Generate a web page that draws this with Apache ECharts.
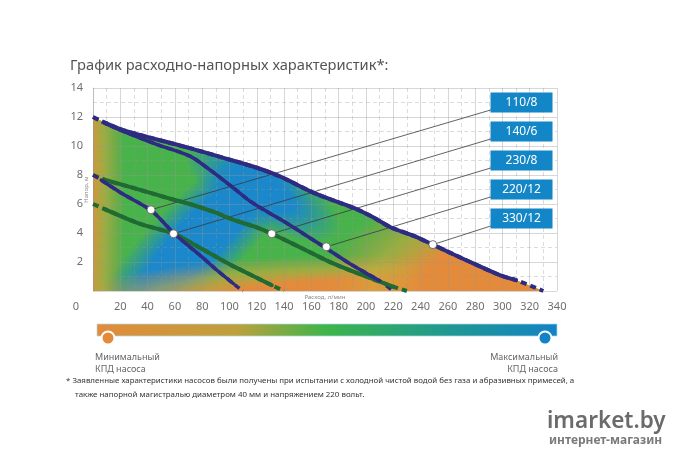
<!DOCTYPE html>
<html>
<head>
<meta charset="utf-8">
<script src="https://cdn.jsdelivr.net/npm/echarts@6/dist/echarts.min.js"></script>
<style>
  html, body { margin: 0; padding: 0; background: #fff; }
  #chart { width: 680px; height: 460px; }
</style>
</head>
<body>
<div id="chart"></div>
<script>
var FONT = '"Noto Sans", "DejaVu Sans", sans-serif';
var ORANGE = '#e38b3b', GREEN = '#49b34b', BLUE = '#1a88cb';
var NAVY = '#2e2b82', DKGREEN = '#1f6b33', BOXBLUE = '#1286c6';

// pump curves, flow l/min -> head m. first and last step are the dashed ends
var q330 = [0, 9, 22, 47, 71, 95, 120, 137, 161, 176, 193, 205, 218, 235, 249, 274, 298, 310, 330];
var h330 = [12, 11.6, 11.1, 10.45, 9.85, 9.2, 8.5, 7.9, 6.8, 6.25, 5.65, 5.1, 4.4, 3.8, 3.2, 2.1, 1.1, 0.75, 0];
var q220 = [0, 9, 20, 47, 71, 85, 103, 115, 127, 140, 155, 170, 188, 210, 220];
var h220 = [12, 11.55, 11.1, 10.1, 9.3, 8.4, 7.1, 6.2, 5.5, 4.8, 3.9, 3.0, 1.9, 0.7, 0];
var q230 = [0, 11, 30, 55, 71, 90, 103, 118, 131, 152, 176, 200, 220, 230];
var h230 = [8, 7.6, 7.1, 6.4, 6.0, 5.4, 4.9, 4.45, 3.95, 3.0, 1.9, 1.0, 0.3, 0];
var q140 = [0, 8.5, 34, 59, 78, 95, 103, 131, 140];
var h140 = [6, 5.65, 4.65, 3.95, 3.0, 2.1, 1.7, 0.4, 0];
var q110 = [0, 6, 20, 42, 50, 59, 78, 90, 103, 110];
var h110 = [8, 7.65, 6.8, 5.6, 4.9, 4.0, 2.5, 1.5, 0.5, 0];

// labels and the points they point at
var pumpNames = ['110/8', '140/6', '230/8', '220/12', '330/12'];
var markerFlow = [42.5, 59, 131, 171, 249];
var markerHead = [5.6, 3.95, 3.95, 3.05, 3.2];
var boxFlow = 314;
var boxHead = [13, 11, 9, 7, 5];
var leaderFlow = 292;

// efficiency map: ellipse centre, end of long axis, end of short axis
// order: best-efficiency ridge and its upper lobe, then low-efficiency zones left, bottom, right
var zoneCenter = [[80.6, 3.84], [123.8, 6.92], [-24, 6.2], [195.6, -0.96], [313, 0.07]];
var zoneMajor = [[165.2, 11.9], [180, 4.0], [-24, 34], [415, -0.96], [459, 0.07]];
var zoneMinor = [[104, 1.6], [108.5, 5.0], [23, 6.2], [195.6, 2.47], [313, 7.6]];

function fade(col, core, mid) {
  var c = echarts.color.parse(col);
  var rgb = c[0] + ',' + c[1] + ',' + c[2];
  var stops = [
    { offset: 0, color: 'rgba(' + rgb + ',1)' },
    { offset: core, color: 'rgba(' + rgb + ',1)' }
  ];
  if (mid) stops.push({ offset: (core + 1) / 2, color: mid });
  stops.push({ offset: 1, color: 'rgba(' + rgb + ',0)' });
  return stops;
}
var YELLOWISH = 'rgba(212,170,58,0.55)';
var zoneStops = [
  fade(BLUE, 0.5),
  fade(BLUE, 0.4),
  fade(ORANGE, 0.45, YELLOWISH),
  fade(ORANGE, 0.5, YELLOWISH),
  fade(ORANGE, 0.5, YELLOWISH)
];

function pairs(q, h) {
  return q.map(function (v, i) { return [v, h[i]]; });
}

function renderFill(params, api) {
  var outline = q330.map(function (q, i) { return api.coord([q, h330[i]]); });
  outline.push(api.coord([q330[q330.length - 1], 0]));
  outline.push(api.coord([0, 0]));
  var kids = [{ type: 'polygon', shape: { points: outline }, style: { fill: GREEN } }];
  zoneCenter.forEach(function (c0, k) {
    var c = api.coord(c0), a = api.coord(zoneMajor[k]), b = api.coord(zoneMinor[k]);
    var ax = a[0] - c[0], ay = a[1] - c[1];
    var ra = Math.sqrt(ax * ax + ay * ay);
    var ux = ax / ra, uy = ay / ra;
    var rb = Math.abs((b[0] - c[0]) * -uy + (b[1] - c[1]) * ux);
    var local = outline.map(function (p) {
      var dx = p[0] - c[0], dy = p[1] - c[1];
      return [(dx * ux + dy * uy) / ra, (dy * ux - dx * uy) / rb];
    });
    kids.push({
      type: 'polygon',
      x: c[0], y: c[1],
      rotation: Math.atan2(-uy, ux),
      scaleX: ra, scaleY: rb,
      shape: { points: local },
      style: { fill: { type: 'radial', x: 0, y: 0, r: 1, global: true, colorStops: zoneStops[k] } }
    });
  });
  return { type: 'group', children: kids };
}

var curves = [
  { q: q230, h: h230, color: DKGREEN, width: 4 },
  { q: q140, h: h140, color: DKGREEN, width: 4 },
  { q: q220, h: h220, color: NAVY, width: 3.5 },
  { q: q110, h: h110, color: NAVY, width: 3.5 },
  { q: q330, h: h330, color: NAVY, width: 4 }
];

var series = [{
  type: 'custom',
  z: 1,
  silent: true,
  clip: true,
  renderItem: renderFill,
  data: [[0, 0]]
}];

// leader lines from the points to the labels
pumpNames.forEach(function (name, i) {
  series.push({
    type: 'line',
    z: 4,
    silent: true,
    symbol: 'none',
    lineStyle: { color: '#3a3a3a', width: 0.8 },
    data: [[markerFlow[i], markerHead[i]], [leaderFlow, boxHead[i] - 0.5]]
  });
});

curves.forEach(function (c) {
  var d = pairs(c.q, c.h);
  series.push({
    type: 'line', z: 5, silent: true, symbol: 'none', smooth: 0.3,
    lineStyle: { color: c.color, width: c.width, type: [6, 4] },
    data: d
  });
  series.push({
    type: 'line', z: 6, silent: true, symbol: 'none', smooth: 0.3,
    lineStyle: { color: c.color, width: c.width, cap: 'round' },
    data: d.slice(1, -1)
  });
});

series.push({
  type: 'scatter',
  z: 8,
  silent: true,
  symbol: 'circle',
  symbolSize: 8,
  itemStyle: { color: '#fff', borderColor: '#555', borderWidth: 0.8, opacity: 1 },
  data: pairs(markerFlow, markerHead)
});

series.push({
  type: 'scatter',
  z: 8,
  silent: true,
  symbol: 'rect',
  symbolSize: [62, 20],
  itemStyle: { color: BOXBLUE, opacity: 1 },
  label: {
    show: true,
    position: 'inside',
    color: '#fff',
    fontFamily: FONT,
    fontSize: 12,
    formatter: function (p) { return pumpNames[p.dataIndex]; }
  },
  data: boxHead.map(function (h) { return [boxFlow, h]; })
});

var gridLine = { lineStyle: { color: 'rgba(150,150,150,0.38)', width: 1 } };
var gridMinor = { show: true, lineStyle: { color: 'rgba(150,150,150,0.33)', width: 1, type: [4, 3] } };

var option = {
  animation: false,
  backgroundColor: '#fff',
  title: {
    text: 'График расходно-напорных характеристик*:',
    left: 70,
    top: 58,
    padding: 0,
    textStyle: { fontFamily: FONT, fontSize: 14.7, fontWeight: 'normal', color: '#555' }
  },
  grid: { left: 93, right: 123, top: 88, bottom: 169 },
  xAxis: {
    type: 'value',
    z: 3,
    min: 0,
    max: 340,
    interval: 20,
    name: 'Расход, л/мин',
    nameLocation: 'middle',
    nameGap: 3,
    nameMoveOverlap: false,
    nameTextStyle: { fontFamily: FONT, fontSize: 6, color: '#888', verticalAlign: 'top' },
    axisLine: { show: false },
    axisTick: { show: false },
    axisLabel: {
      margin: 10,
      color: '#6f6f6f',
      fontFamily: FONT,
      fontSize: 11,
      formatter: function (v) { return v === 0 ? '' : String(v); }
    },
    splitLine: gridLine,
    minorTick: { show: false, splitNumber: 2 },
    minorSplitLine: gridMinor
  },
  yAxis: {
    type: 'value',
    z: 3,
    min: 0,
    max: 14,
    interval: 2,
    name: 'Напор, м',
    nameLocation: 'middle',
    nameGap: 4,
    nameRotate: 90,
    nameMoveOverlap: false,
    nameTextStyle: { fontFamily: FONT, fontSize: 6, color: '#888' },
    axisLine: { show: true, lineStyle: { color: 'rgba(150,150,150,0.4)' } },
    axisTick: { show: false },
    axisLabel: {
      margin: 10,
      color: '#6f6f6f',
      fontFamily: FONT,
      fontSize: 11,
      formatter: function (v) { return v === 0 ? '{zero|0}' : String(v); },
      rich: { zero: { fontFamily: FONT, fontSize: 11, color: '#6f6f6f', padding: [32, 4, 0, 0] } }
    },
    splitLine: gridLine,
    minorTick: { show: false, splitNumber: 2 },
    minorSplitLine: gridMinor
  },
  graphic: [
    {
      type: 'rect',
      shape: { x: 97, y: 324, width: 460, height: 12 },
      style: {
        fill: {
          type: 'linear', x: 0, y: 0, x2: 1, y2: 0,
          colorStops: [
            { offset: 0, color: ORANGE },
            { offset: 0.3, color: '#bfa03c' },
            { offset: 0.5, color: '#3db54a' },
            { offset: 0.75, color: '#21998e' },
            { offset: 1, color: '#1283c6' }
          ]
        },
        stroke: 'rgba(170,220,235,0.7)',
        lineWidth: 1
      }
    },
    { type: 'circle', shape: { cx: 108, cy: 338, r: 6.5 }, style: { fill: ORANGE, stroke: '#fff', lineWidth: 2 } },
    { type: 'circle', shape: { cx: 545, cy: 338, r: 6.5 }, style: { fill: '#1283c6', stroke: '#fff', lineWidth: 2 } },
    {
      type: 'text',
      style: {
        x: 95, y: 351, text: 'Минимальный\nКПД насоса',
        font: '9px ' + FONT, fill: '#666', lineHeight: 12,
        textAlign: 'left', textVerticalAlign: 'top'
      }
    },
    {
      type: 'text',
      style: {
        x: 558, y: 351, text: 'Максимальный\nКПД насоса',
        font: '9px ' + FONT, fill: '#666', lineHeight: 12,
        textAlign: 'right', align: 'right', textVerticalAlign: 'top'
      }
    },
    {
      type: 'text',
      style: {
        x: 66, y: 377,
        text: '* Заявленные характеристики насосов были получены при испытании с холодной чистой водой без газа и абразивных примесей, а',
        font: '7.9px ' + FONT, fill: '#333', textVerticalAlign: 'top'
      }
    },
    {
      type: 'text',
      style: {
        x: 75, y: 391,
        text: 'также напорной магистралью диаметром 40 мм и напряжением 220 вольт.',
        font: '7.9px ' + FONT, fill: '#333', textVerticalAlign: 'top'
      }
    },
    {
      type: 'text',
      style: {
        x: 547, y: 410, text: 'imarket.by',
        font: '600 22.5px ' + FONT, fill: '#6b6b6b', textVerticalAlign: 'top'
      }
    },
    {
      type: 'text',
      style: {
        x: 549, y: 435, text: 'интернет-магазин',
        font: 'bold 12px ' + FONT, fill: '#7a7a7a', textVerticalAlign: 'top'
      }
    }
  ],
  series: series
};

var chart = echarts.init(document.getElementById('chart'), null, { renderer: 'canvas' });
chart.setOption(option);
</script>
</body>
</html>
